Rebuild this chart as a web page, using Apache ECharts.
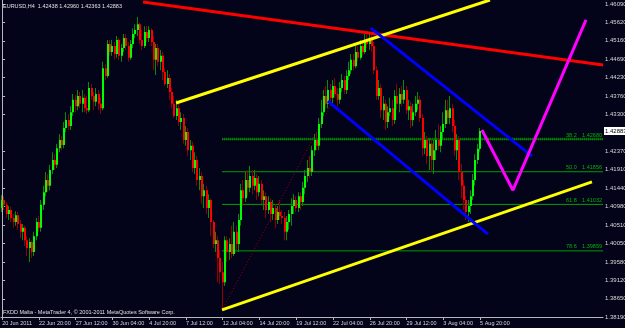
<!DOCTYPE html>
<html>
<head>
<meta charset="utf-8">
<script src="https://cdn.jsdelivr.net/npm/echarts@6/dist/echarts.min.js"></script>
<style>
html, body { margin: 0; padding: 0; background: #03031a; }
#main { width: 625px; height: 328px; }
</style>
</head>
<body>
<div id="main"></div>
<script>
// EURUSD H4, 20 Jun - 5 Aug 2011
var opens = [1.4094,1.4114,1.4102,1.4079,1.4089,1.4069,1.4059,1.4076,1.4054,1.4034,
1.4044,1.4013,1.3993,1.4008,1.3983,1.4023,1.4059,1.4044,1.4102,1.4134,
1.4165,1.4150,1.4190,1.4215,1.4203,1.4245,1.4266,1.4253,1.4296,1.4316,
1.4301,1.4336,1.4367,1.4351,1.4377,1.4357,1.4372,1.4346,1.4341,1.4397,
1.4377,1.4362,1.4382,1.4357,1.4346,1.4447,1.4427,1.4508,1.4488,1.4503,
1.4483,1.4518,1.4478,1.4498,1.4523,1.4503,1.4473,1.4508,1.4533,1.4543,
1.4558,1.4518,1.4503,1.4538,1.4523,1.4543,1.4513,1.4468,1.4498,1.4463,
1.4478,1.4437,1.4407,1.4422,1.4387,1.4357,1.4326,1.4346,1.4311,1.4321,
1.4266,1.4286,1.4240,1.4251,1.4195,1.4215,1.4165,1.4175,1.4124,1.4139,
1.4094,1.4114,1.4059,1.4003,1.4013,1.3968,1.3932,1.3907,1.4013,1.3983,
1.4003,1.3978,1.4034,1.4003,1.4064,1.4139,1.4119,1.4165,1.4145,1.4175,
1.4150,1.4170,1.4134,1.4155,1.4114,1.4124,1.4089,1.4109,1.4079,1.4094,
1.4064,1.4084,1.4074,1.4069,1.4034,1.4059,1.4079,1.4099,1.4114,1.4094,
1.4124,1.4109,1.4145,1.4175,1.4195,1.4185,1.4240,1.4266,1.4251,1.4306,
1.4336,1.4377,1.4357,1.4392,1.4372,1.4402,1.4382,1.4367,1.4397,1.4417,
1.4392,1.4427,1.4442,1.4468,1.4452,1.4488,1.4473,1.4503,1.4488,1.4518,
1.4508,1.4523,1.4503,1.4442,1.4377,1.4397,1.4341,1.4357,1.4311,1.4336,
1.4346,1.4316,1.4377,1.4357,1.4382,1.4367,1.4392,1.4341,1.4351,1.4316,
1.4336,1.4357,1.4367,1.4321,1.4245,1.4266,1.4225,1.4256,1.4215,1.4240,
1.4266,1.4251,1.4286,1.4306,1.4341,1.4321,1.4346,1.4301,1.4240,1.4266,
1.4185,1.4150,1.4114,1.4084,1.4099,1.4124,1.4165,1.4215,1.42438];
var closes = [1.4114,1.4102,1.4079,1.4089,1.4069,1.4059,1.4076,1.4054,1.4034,1.4044,
1.4013,1.3993,1.4008,1.3983,1.4023,1.4059,1.4044,1.4102,1.4134,1.4165,
1.4150,1.4190,1.4215,1.4203,1.4245,1.4266,1.4253,1.4296,1.4316,1.4301,
1.4336,1.4367,1.4351,1.4377,1.4357,1.4372,1.4346,1.4341,1.4397,1.4377,
1.4362,1.4382,1.4357,1.4346,1.4447,1.4427,1.4508,1.4488,1.4503,1.4483,
1.4518,1.4478,1.4498,1.4523,1.4503,1.4473,1.4508,1.4533,1.4543,1.4558,
1.4518,1.4503,1.4538,1.4523,1.4543,1.4513,1.4468,1.4498,1.4463,1.4478,
1.4437,1.4407,1.4422,1.4387,1.4357,1.4326,1.4346,1.4311,1.4321,1.4266,
1.4286,1.4240,1.4251,1.4195,1.4215,1.4165,1.4175,1.4124,1.4139,1.4094,
1.4114,1.4059,1.4003,1.4013,1.3968,1.3932,1.3907,1.4013,1.3983,1.4003,
1.3978,1.4034,1.4003,1.4064,1.4139,1.4119,1.4165,1.4145,1.4175,1.4150,
1.4170,1.4134,1.4155,1.4114,1.4124,1.4089,1.4109,1.4079,1.4094,1.4064,
1.4084,1.4074,1.4069,1.4034,1.4059,1.4079,1.4099,1.4114,1.4094,1.4124,
1.4109,1.4145,1.4175,1.4195,1.4185,1.4240,1.4266,1.4251,1.4306,1.4336,
1.4377,1.4357,1.4392,1.4372,1.4402,1.4382,1.4367,1.4397,1.4417,1.4392,
1.4427,1.4442,1.4468,1.4452,1.4488,1.4473,1.4503,1.4488,1.4518,1.4508,
1.4523,1.4503,1.4442,1.4377,1.4397,1.4341,1.4357,1.4311,1.4336,1.4346,
1.4316,1.4377,1.4357,1.4382,1.4367,1.4392,1.4341,1.4351,1.4316,1.4336,
1.4357,1.4367,1.4321,1.4245,1.4266,1.4225,1.4256,1.4215,1.4240,1.4266,
1.4251,1.4286,1.4306,1.4341,1.4321,1.4346,1.4301,1.4240,1.4266,1.4185,
1.4150,1.4114,1.4084,1.4099,1.4124,1.4165,1.4215,1.42438,1.42883];
var highs = [1.4127,1.4124,1.4109,1.4099,1.4097,1.4079,1.4086,1.4084,1.4064,1.4054,
1.4049,1.4023,1.4018,1.4013,1.4034,1.4069,1.4074,1.4114,1.4150,1.4185,
1.4180,1.4203,1.4235,1.4230,1.4256,1.4281,1.4276,1.4311,1.4336,1.4331,
1.4351,1.4382,1.4379,1.4392,1.4387,1.4392,1.4382,1.4377,1.4412,1.4407,
1.4387,1.4397,1.4392,1.4372,1.4463,1.4457,1.4518,1.4518,1.4518,1.4513,
1.4528,1.4523,1.4508,1.4533,1.4533,1.4513,1.4518,1.4548,1.4558,1.4576,
1.4563,1.4543,1.4553,1.4553,1.4553,1.4548,1.4528,1.4508,1.4508,1.4493,
1.4488,1.4447,1.4442,1.4432,1.4397,1.4377,1.4367,1.4357,1.4336,1.4331,
1.4301,1.4296,1.4266,1.4261,1.4235,1.4225,1.4195,1.4185,1.4155,1.4150,
1.4129,1.4119,1.4064,1.4034,1.4023,1.3988,1.3958,1.4023,1.4023,1.4018,
1.4049,1.4059,1.4049,1.4079,1.4155,1.4165,1.4185,1.4190,1.4200,1.4190,
1.4190,1.4180,1.4175,1.4165,1.4139,1.4134,1.4124,1.4119,1.4114,1.4104,
1.4099,1.4114,1.4089,1.4084,1.4074,1.4089,1.4119,1.4129,1.4124,1.4134,
1.4134,1.4160,1.4190,1.4215,1.4225,1.4251,1.4281,1.4286,1.4321,1.4367,
1.4392,1.4402,1.4417,1.4407,1.4417,1.4422,1.4397,1.4412,1.4432,1.4427,
1.4442,1.4463,1.4483,1.4483,1.4503,1.4503,1.4518,1.4513,1.4533,1.4538,
1.4538,1.4533,1.4513,1.4452,1.4417,1.4407,1.4377,1.4367,1.4351,1.4372,
1.4367,1.4392,1.4407,1.4397,1.4402,1.4417,1.4402,1.4367,1.4362,1.4357,
1.4377,1.4387,1.4377,1.4331,1.4286,1.4276,1.4271,1.4266,1.4266,1.4291,
1.4306,1.4301,1.4336,1.4367,1.4367,1.4377,1.4357,1.4316,1.4281,1.4276,
1.4205,1.4165,1.4124,1.4114,1.4139,1.4180,1.4230,1.4256,1.42960];
var lows = [1.4084,1.4089,1.4069,1.4064,1.4059,1.4044,1.4049,1.4039,1.4018,1.4013,
1.3998,1.3973,1.3958,1.3968,1.3973,1.4013,1.4034,1.4034,1.4089,1.4124,
1.4134,1.4139,1.4180,1.4190,1.4195,1.4235,1.4240,1.4245,1.4286,1.4291,
1.4291,1.4326,1.4336,1.4341,1.4346,1.4336,1.4336,1.4331,1.4336,1.4367,
1.4341,1.4351,1.4341,1.4331,1.4341,1.4417,1.4422,1.4478,1.4478,1.4468,
1.4473,1.4468,1.4463,1.4488,1.4493,1.4463,1.4468,1.4498,1.4523,1.4528,
1.4508,1.4493,1.4498,1.4513,1.4513,1.4503,1.4442,1.4430,1.4452,1.4442,
1.4417,1.4402,1.4397,1.4367,1.4346,1.4321,1.4316,1.4301,1.4291,1.4256,
1.4251,1.4225,1.4215,1.4185,1.4180,1.4150,1.4139,1.4104,1.4094,1.4079,
1.4069,1.4023,1.3993,1.3983,1.3907,1.3902,1.3837,1.3897,1.3958,1.3963,
1.3968,1.3973,1.3988,1.3983,1.4049,1.4099,1.4109,1.4124,1.4134,1.4129,
1.4139,1.4114,1.4124,1.4104,1.4089,1.4069,1.4079,1.4059,1.4064,1.4044,
1.4054,1.4064,1.4054,1.4013,1.4013,1.4039,1.4049,1.4079,1.4084,1.4084,
1.4089,1.4099,1.4129,1.4160,1.4170,1.4175,1.4225,1.4240,1.4240,1.4296,
1.4326,1.4346,1.4346,1.4362,1.4357,1.4372,1.4351,1.4357,1.4387,1.4382,
1.4382,1.4417,1.4432,1.4442,1.4447,1.4463,1.4468,1.4478,1.4483,1.4498,
1.4493,1.4488,1.4432,1.4367,1.4367,1.4321,1.4316,1.4291,1.4296,1.4326,
1.4301,1.4306,1.4341,1.4336,1.4351,1.4357,1.4331,1.4316,1.4296,1.4301,
1.4326,1.4341,1.4311,1.4225,1.4230,1.4205,1.4190,1.4185,1.4180,1.4215,
1.4240,1.4235,1.4266,1.4296,1.4306,1.4306,1.4286,1.4225,1.4215,1.4165,
1.4119,1.4089,1.4064,1.4059,1.4079,1.4114,1.4150,1.4205,1.42363];

var xLabels = ['20 Jun 2011','22 Jun 20:00','27 Jun 12:00','30 Jun 04:00','4 Jul 20:00','7 Jul 12:00','12 Jul 04:00',
  '14 Jul 20:00','19 Jul 12:00','22 Jul 04:00','26 Jul 20:00','29 Jul 12:00','3 Aug 04:00','5 Aug 20:00'];
var barsPerLabel = 16;
var yTicks = [1.38190,1.38650,1.39120,1.39580,1.40050,1.40510,1.40980,1.41440,1.41910,1.42370,
  1.43300,1.43760,1.44230,1.44690,1.45160,1.45620,1.46090];
var lastPrice = 1.42883;

// drawn objects: [bar index, price]
var redLine = [[61.3, 1.4614], [261.5, 1.4455]];
var yellowTop = [[75.7, 1.4359], [212.3, 1.4619]];
var yellowBottom = [[95.7, 1.3837], [256.7, 1.4160]];
var blueTop = [[160.5, 1.4548], [230.6, 1.4225]];
var blueBottom = [[141.8, 1.4364], [211.4, 1.4028]];
var magenta = [[208.8, 1.4291], [222.3, 1.4139], [254.1, 1.4569]];
var fibDiag = [[95.7, 1.38365], [159.6, 1.45348]];
var fibNames = ['38.2', '50.0', '61.8', '78.6'];
var fibValues = [1.42680, 1.41856, 1.41032, 1.39859];
var fibStart = 95.7;

var chart = echarts.init(document.getElementById('main'));
var FONT = '"Liberation Sans", Arial, sans-serif';

var candleData = [];
for (var i = 0; i < closes.length; i++) {
  candleData.push([i, opens[i], closes[i], lows[i], highs[i]]);
}

function renderCandle(params, api) {
  var i = api.value(0);
  var pO = api.coord([i, api.value(1)]);
  var pC = api.coord([i, api.value(2)]);
  var pL = api.coord([i, api.value(3)]);
  var pH = api.coord([i, api.value(4)]);
  var up = api.value(2) >= api.value(1);
  var x = Math.round(pO[0]);
  var top = Math.min(pO[1], pC[1]);
  var h = Math.max(1, Math.abs(pO[1] - pC[1]));
  return {
    type: 'group',
    children: [
      { type: 'rect', shape: { x: x - 1, y: pH[1], width: 1, height: Math.max(1, pL[1] - pH[1]) },
        style: { fill: up ? '#009000' : '#900000' } },
      { type: 'rect', shape: { x: x - 1, y: top, width: 2, height: h },
        style: { fill: up ? '#00ff00' : '#ff0000' } }
    ]
  };
}

function lineSeries(data, color, width, type, z) {
  return {
    type: 'line', data: data, symbol: 'none', silent: true, animation: false,
    lineStyle: { color: color, width: width, type: type || 'solid' }, z: z || 5
  };
}

var series = [];
fibValues.forEach(function (v, k) {
  if (k === 0) series.push(lineSeries([[fibStart, v], [261.5, v]], '#005a00', 3, [1, 1], 1));
  series.push(lineSeries([[fibStart, v], [261.5, v]], '#00a000', 1, 'solid', 2));
});
series.push(lineSeries(fibDiag, '#a00000', 1, [1, 2], 2));
series.push({ type: 'custom', renderItem: renderCandle, data: candleData, animation: false, z: 3 });
series.push(lineSeries(redLine, '#ff0000', 3));
series.push(lineSeries(yellowTop, '#ffff00', 3));
series.push(lineSeries(yellowBottom, '#ffff00', 3));
series.push(lineSeries(blueTop, '#0000ff', 3));
series.push(lineSeries(blueBottom, '#0000ff', 3));
series.push(lineSeries(magenta, '#ff00ff', 3));

var graphics = [
  { type: 'text', left: 3, top: 3, z: 20, style: { text: 'EURUSD,H4  1.42438 1.42960 1.42363 1.42883',
    fill: '#e0e0e0', fontSize: 5.5, fontFamily: FONT } },
  { type: 'text', left: 3, top: 309, z: 20, style: { text: 'FXDD Malta - MetaTrader 4, \u00a9 2001-2011 MetaQuotes Software Corp.',
    fill: '#e0e0e0', fontSize: 5.5, fontFamily: FONT } },
  { type: 'rect', id: 'bidBox', z: 30, shape: { x: 604, y: 0, width: 21, height: 8 }, style: { fill: '#ffffff' } },
  { type: 'text', id: 'bidText', z: 31, x: 605, y: 0,
    style: { text: lastPrice.toFixed(5), fill: '#000000', fontSize: 6, fontFamily: FONT, verticalAlign: 'middle' } }
];
fibValues.forEach(function (v, k) {
  graphics.push({ type: 'text', id: 'fn' + k, z: 20, x: 566, y: 0,
    style: { text: fibNames[k], fill: '#00b400', fontSize: 5.5, fontFamily: FONT, verticalAlign: 'bottom' } });
  graphics.push({ type: 'text', id: 'ft' + k, z: 20, x: 602, y: 0,
    style: { text: v.toFixed(5), fill: '#00b400', fontSize: 5.5, fontFamily: FONT, align: 'right', verticalAlign: 'bottom' } });
});

var xTickValues = xLabels.map(function (s, k) { return k * barsPerLabel; });

chart.setOption({
  backgroundColor: '#03031a',
  animation: false,
  grid: { left: 1, right: 22, top: 0, bottom: 11, show: false, outerBoundsMode: 'none', containLabel: false },
  xAxis: {
    type: 'value', min: -0.5, max: 261.5,
    splitLine: { show: false },
    axisLine: { show: true, lineStyle: { color: '#b8b8b8', width: 1 } },
    axisTick: { show: true, length: 3, lineStyle: { color: '#b8b8b8' }, customValues: xTickValues },
    axisLabel: {
      show: true, color: '#d8d8d8', fontSize: 5.5, fontFamily: FONT, margin: 3, align: 'left',
      hideOverlap: false, showMinLabel: true, showMaxLabel: true,
      customValues: xTickValues,
      formatter: function (v) { return xLabels[Math.round(v / barsPerLabel)] || ''; }
    }
  },
  yAxis: {
    type: 'value', position: 'right', min: 1.3819, max: 1.4619,
    splitLine: { show: false },
    axisLine: { show: true, lineStyle: { color: '#b8b8b8', width: 1 } },
    axisTick: { show: true, length: 3, lineStyle: { color: '#b8b8b8' }, customValues: yTicks },
    axisLabel: {
      show: true, color: '#d8d8d8', fontSize: 6, fontFamily: FONT, margin: 2,
      hideOverlap: false, customValues: yTicks,
      formatter: function (v) { return v.toFixed(5); }
    }
  },
  series: series,
  graphic: graphics
});

// place fib captions and the bid box through the chart's own scale
var g = [];
fibValues.forEach(function (v, k) {
  var py = chart.convertToPixel({ gridIndex: 0 }, [0, v])[1];
  g.push({ id: 'fn' + k, y: py - 1 });
  g.push({ id: 'ft' + k, y: py - 1 });
});
var bidY = chart.convertToPixel({ gridIndex: 0 }, [0, lastPrice])[1];
g.push({ id: 'bidBox', shape: { x: 604, y: Math.round(bidY) - 4, width: 21, height: 8 } });
g.push({ id: 'bidText', y: Math.round(bidY) });
chart.setOption({ graphic: g });
</script>
</body>
</html>
